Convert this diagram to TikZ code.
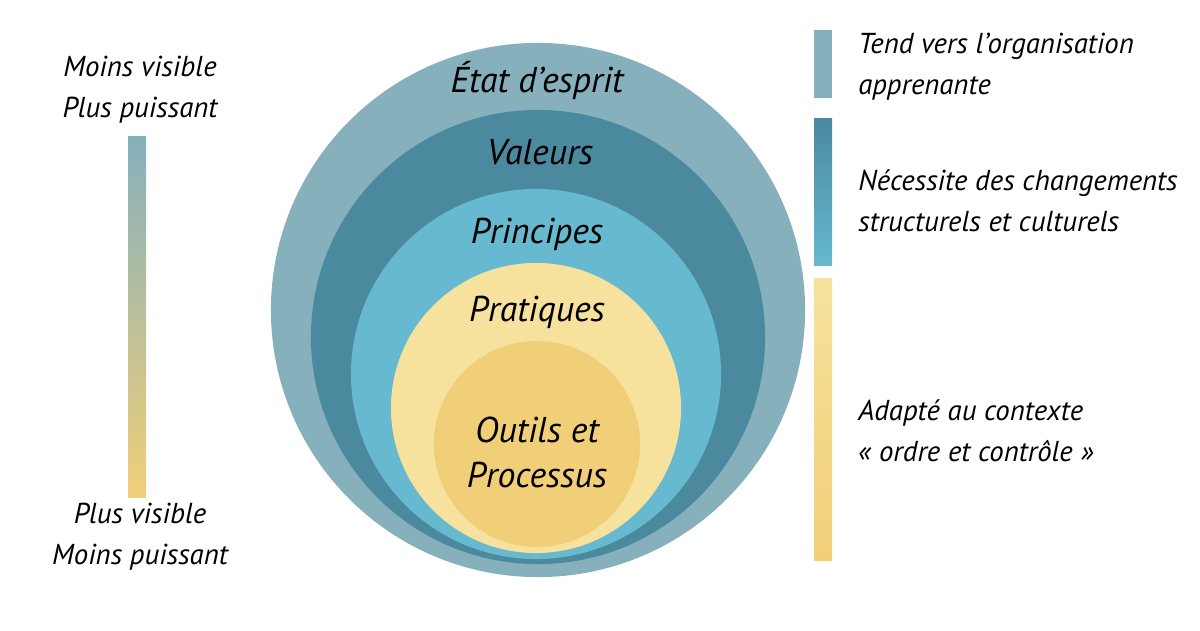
\documentclass[tikz,border=0pt]{standalone}
\usepackage{fontspec}
\setmainfont{PT Sans}
\usetikzlibrary{positioning}
\definecolor{espritc}{HTML}{85B0BC}
\definecolor{valeursc}{HTML}{4B899F}
\definecolor{principesc}{HTML}{66B9CF}
\definecolor{pratiquesc}{HTML}{F6E29D}
\definecolor{outilsc}{HTML}{F1CF78}
\begin{document}
\begin{tikzpicture}[x=0.025cm,y=-0.025cm,
    ring/.style={circle,inner sep=0pt,minimum size=#1*0.05cm},
    sidetxt/.style={font=\fontsize{20.5}{29}\selectfont\itshape,inner sep=0pt},
    circtxt/.style={font=\fontsize{25.5}{32}\selectfont\itshape,inner sep=0pt,align=center}]
    \useasboundingbox (0,0) rectangle (1200,630);

    % Circles
    \node[ring=267,fill=espritc] (esprit) at (538,310) {};
    \node[ring=227,fill=valeursc] (valeurs) at (538,337) {};
    \node[ring=185,fill=principesc] (principes) at (536,374) {};
    \node[ring=145,fill=pratiquesc] (pratiques) at (536,408) {};
    \node[ring=103,fill=outilsc] (outils) at (537,444) {};

    \node[circtxt] (esprit-t) at (537,80) {État d'esprit};
    \node[circtxt] (valeurs-t) at (540,152) {Valeurs};
    \node[circtxt] (principes-t) at (537,234) {Principes};
    \node[circtxt] (pratiques-t) at (537,312) {Pratiques};
    \node[circtxt] (outils-t) at (537,452) {Outils et\\Processus};

    % Left scale
    \node[sidetxt,align=center] (haut) at (140,90) {Moins visible\\Plus puissant};
    \shade[top color=espritc,bottom color=outilsc] (128,137) rectangle (146,497);
    \node[sidetxt,align=center] (bas) at (140,537) {Plus visible\\Moins puissant};

    % Right legend
    \fill[espritc] (814,30) rectangle (832,98);
    \shade[top color=valeursc,bottom color=principesc] (814,119) rectangle (832,265);
    \shade[top color=pratiquesc,bottom color=outilsc] (814,278) rectangle (832,560);
    \node[sidetxt,align=left,anchor=west] (leg1) at (858,67) {Tend vers l'organisation\\apprenante};
    \node[sidetxt,align=left,anchor=west] (leg2) at (858,201) {Nécessite des changements\\structurels et culturels};
    \node[sidetxt,align=left,anchor=west] (leg3) at (858,431) {Adapté au contexte\\« ordre et contrôle »};
\end{tikzpicture}
\end{document}
